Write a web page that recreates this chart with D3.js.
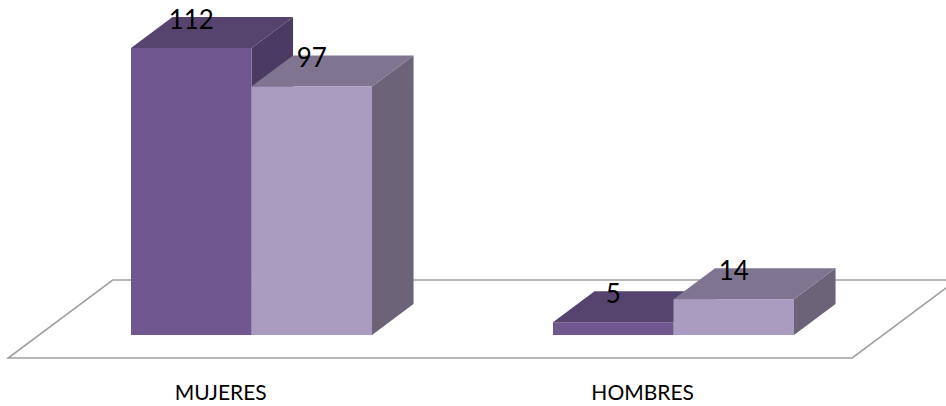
<!DOCTYPE html>
<html>
<head>
<meta charset="utf-8">
<script src="https://cdn.jsdelivr.net/npm/d3@7"></script>
<style>
  body { margin: 0; background: #fff; }
  svg { display: block; }
</style>
</head>
<body>
<div id="chart"></div>
<script>
// data
const categories = ["MUJERES", "HOMBRES"];
const series = ["s1", "s2"];
const values = {
    s1: [112, 5],
    s2: [97, 14]
};

// face colours per series: front, top, side
const colors = {
    s1: { front: "#71578f", top: "#56446e", side: "#4b3b62" },
    s2: { front: "#aa9bc1", top: "#7f7591", side: "#6d6379" }
};

const width = 946;
const height = 406;
const base = 335;          // front bottom of the bars
const depth = 31;          // bar depth (vertical px)
const slant = 1.34;        // horizontal shift per vertical px of depth

const svg = d3.select("#chart")
    .append("svg")
    .attr("width", width)
    .attr("height", height);

const x = d3.scaleBand()
    .domain(categories)
    .range([131, 794])
    .paddingInner(0.4289)
    .paddingOuter(0);

const xs = d3.scaleBand()
    .domain(series)
    .range([0, x.bandwidth()]);

const y = d3.scaleLinear()
    .domain([0, 120])
    .range([base, base - 120 * 2.5625]);

// floor parallelogram
const fl = x.range()[0] - 92, fr = x.range()[1] + 89;
const zf = -23, zb = 55;
const pt = (px, z) => [px + z * slant, base - z];
const floor = [pt(fl, zf), pt(fr, zf), pt(fr, zb), pt(fl, zb)];
svg.append("path")
    .attr("d", d3.line()(floor) + "Z")
    .attr("fill", "none")
    .attr("stroke", "#a0a0a0")
    .attr("stroke-width", 1.6);

// bars
const dx = depth * slant, dy = depth;
categories.forEach((cat, i) => {
    series.forEach(s => {
        const v = values[s][i];
        const x0 = x(cat) + xs(s);
        const x1 = x0 + xs.bandwidth();
        const yt = y(v);
        const c = colors[s];
        const g = svg.append("g");
        // side
        g.append("path")
            .attr("d", d3.line()([[x1, yt], [x1 + dx, yt - dy], [x1 + dx, base - dy], [x1, base]]) + "Z")
            .attr("fill", c.side);
        // top
        g.append("path")
            .attr("d", d3.line()([[x0, yt], [x0 + dx, yt - dy], [x1 + dx, yt - dy], [x1, yt]]) + "Z")
            .attr("fill", c.top);
        // front
        g.append("rect")
            .attr("x", x0)
            .attr("y", yt)
            .attr("width", x1 - x0)
            .attr("height", base - yt)
            .attr("fill", c.front);
    });
});

// value labels
categories.forEach((cat, i) => {
    series.forEach(s => {
        const v = values[s][i];
        svg.append("text")
            .attr("x", x(cat) + xs(s) + xs.bandwidth() / 2)
            .attr("y", y(v) - 19)
            .attr("text-anchor", "middle")
            .style("font-family", "Lato, 'Open Sans', sans-serif")
            .style("font-size", "26px")
            .style("fill", "#000")
            .text(v);
    });
});

// category labels
svg.selectAll(".cat")
    .data(categories)
    .enter().append("text")
    .attr("class", "cat")
    .attr("x", d => x(d) + x.bandwidth() / 2 + zf * slant)
    .attr("y", 400)
    .attr("text-anchor", "middle")
    .style("font-family", "Lato, 'Open Sans', sans-serif")
    .style("font-size", "21px")
    .style("fill", "#000")
    .text(d => d);
</script>
</body>
</html>
